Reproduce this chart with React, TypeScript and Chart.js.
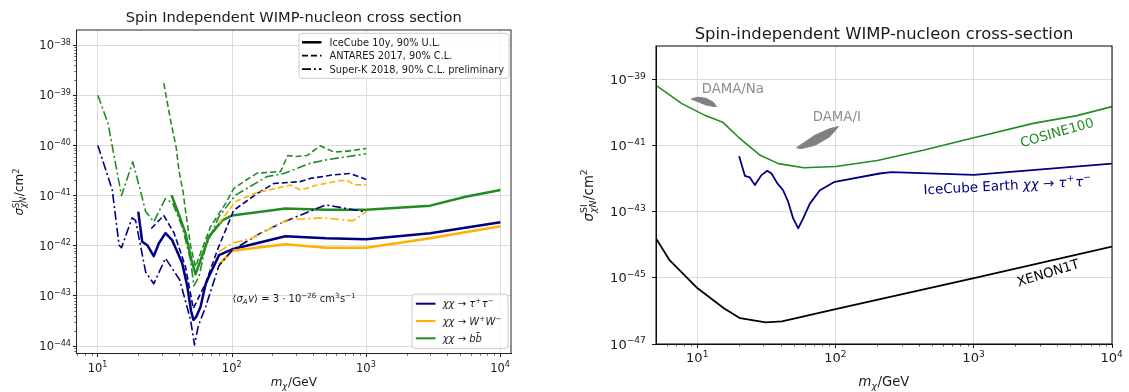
import React, { useEffect, useRef } from "react";
import { Chart, registerables } from "chart.js";

Chart.register(...registerables);

// ===================== LEFT PANEL DATA (m_chi in GeV, sigma in cm^2) =====================
// IceCube 10y, 90% U.L. (solid)
const icTauMass = [20, 21.4, 23.4, 26.1, 28.5, 31.9, 35.8, 42.5, 46.3, 49.5, 51.6, 54, 58.2, 63.5, 67.1, 80, 100, 250, 500, 1000, 3000, 10000];
const icTauSigma = [4.8e-42, 1.2e-42, 1.02e-42, 6.2e-43, 1.12e-42, 1.78e-42, 1.29e-42, 4.5e-43, 1.6e-43, 5.0e-44, 3.3e-44, 3.8e-44, 6.0e-44, 1.7e-43, 2.4e-43, 6.5e-43, 8.5e-43, 1.55e-42, 1.41e-42, 1.35e-42, 1.78e-42, 2.95e-42];
const icWMass = [80, 100, 250, 500, 1000, 3000, 10000];
const icWSigma = [4.2e-43, 7.9e-43, 1.07e-42, 9.1e-43, 9.1e-43, 1.41e-42, 2.45e-42];
const icBMass = [35.4, 39.1, 45, 49.9, 53.4, 58.2, 67.1, 84.5, 100, 250, 500, 1000, 3000, 5500, 10000];
const icBSigma = [1.02e-41, 5.1e-42, 1.78e-42, 5.1e-43, 2.7e-43, 5.1e-43, 1.5e-42, 3.2e-42, 4.0e-42, 5.5e-42, 5.2e-42, 5.2e-42, 6.3e-42, 9.5e-42, 1.29e-41];

// ANTARES 2017, 90% C.L. (dashed)
const anTauMass = [25, 31, 37, 45, 51.4, 63.5, 77.6, 103, 154, 205, 324, 383, 574, 763, 1000];
const anTauSigma = [2.2e-42, 4.0e-42, 1.78e-42, 3.8e-43, 5.6e-44, 1.78e-43, 8.1e-43, 5.1e-42, 1.1e-41, 1.74e-41, 1.9e-41, 2.2e-41, 2.6e-41, 2.75e-41, 2.1e-41];
const anWMass = [80, 106, 154, 273, 324, 430, 642, 720, 809, 1000];
const anWSigma = [2.8e-42, 7.6e-42, 1.15e-41, 1.62e-41, 1.29e-41, 1.62e-41, 2.0e-41, 2.0e-41, 1.66e-41, 1.62e-41];
const anBMass = [31, 34.8, 38.3, 40.2, 43.3, 45, 49.1, 53.4, 58.2, 69.2, 89.3, 103, 126, 154, 230, 260, 300, 363, 455, 574, 700, 1000];
const anBSigma = [1.74e-39, 3.2e-40, 9.3e-41, 3.2e-41, 1.12e-41, 5.0e-42, 1.0e-42, 3.8e-43, 7.1e-43, 2.4e-42, 6.9e-42, 1.38e-41, 2.0e-41, 2.8e-41, 3.0e-41, 6.3e-41, 6.0e-41, 6.3e-41, 9.8e-41, 7.4e-41, 7.6e-41, 8.7e-41];

// Super-K 2018, 90% C.L. preliminary (dash-dot)
const skTauMass = [10, 12.8, 14.4, 15.0, 18.0, 19.1, 22.7, 26.1, 31.9, 40.7, 49.1, 52.5, 56, 63.5, 79.8, 100, 163, 243, 500, 1000];
const skTauSigma = [1.0e-40, 1.29e-41, 1.02e-42, 9.1e-43, 3.6e-42, 3.2e-42, 3.0e-43, 1.74e-43, 5.6e-43, 2.1e-43, 3.3e-44, 1.05e-44, 2.5e-44, 6.0e-44, 4.0e-43, 8.1e-43, 1.78e-42, 3.0e-42, 6.5e-42, 4.7e-42];
const skWMass = [80, 100, 140, 258, 480, 720, 800, 1000];
const skWSigma = [7.6e-43, 1.12e-42, 1.41e-42, 3.3e-42, 3.6e-42, 3.2e-42, 3.16e-42, 4.8e-42];
const skBMass = [10, 11.9, 15, 18.2, 20.7, 22.7, 26.1, 31.9, 36, 42.5, 49.1, 51.9, 56.6, 63.5, 79.8, 106, 183, 243, 383, 511, 1000];
const skBSigma = [1.0e-39, 2.75e-40, 1.0e-41, 4.7e-41, 1.29e-41, 4.8e-42, 3.0e-42, 8.7e-42, 7.1e-42, 2.4e-42, 5.1e-43, 1.58e-43, 2.4e-43, 9.5e-43, 3.8e-42, 1.02e-41, 2.4e-41, 2.75e-41, 4.4e-41, 5.2e-41, 6.8e-41];

// ===================== RIGHT PANEL DATA =====================
const cosineMass = [5, 7.7, 11.4, 15.2, 19.7, 28.4, 38.5, 58.8, 100, 200, 437, 1000, 2690, 5580, 10000];
const cosineSigma = [6.5e-40, 1.82e-40, 7.9e-41, 5.0e-41, 1.78e-41, 5.0e-42, 2.8e-42, 2.1e-42, 2.3e-42, 3.5e-42, 7.2e-42, 1.7e-41, 4.6e-41, 7.9e-41, 1.48e-40];
const earthMass = [20, 22, 23.9, 26, 29, 31.9, 34.3, 37.7, 41.6, 45.3, 49.2, 53.5, 58.1, 65, 76.8, 98.4, 208, 252, 1000, 10000];
const earthSigma = [4.7e-42, 1.2e-42, 1.07e-42, 6.3e-43, 1.26e-42, 1.7e-42, 1.41e-42, 7.2e-43, 4.4e-43, 1.95e-43, 6.2e-44, 3.1e-44, 6.2e-44, 1.74e-43, 4.4e-43, 7.9e-43, 1.41e-42, 1.55e-42, 1.29e-42, 2.8e-42];
const xenonMass = [5, 6.24, 10, 15.5, 20.3, 31.1, 40.8, 101.6, 1020, 10000];
const xenonSigma = [1.55e-44, 3.5e-45, 4.8e-46, 1.2e-46, 6.0e-47, 4.5e-47, 4.8e-47, 1.15e-46, 1.0e-45, 8.7e-45];
const damaNaMassUpper = [9.0, 10, 11.5, 13, 13.7];
const damaNaSigmaUpper = [2.5e-40, 2.85e-40, 2.63e-40, 2.0e-40, 1.5e-40];
const damaNaMassLower = [9.0, 10, 11.5, 13, 13.7];
const damaNaSigmaLower = [2.5e-40, 2.1e-40, 1.66e-40, 1.5e-40, 1.5e-40];
const damaIMassUpper = [52, 56, 70.6, 90, 105];
const damaISigmaUpper = [8.5e-42, 1.05e-41, 2.0e-41, 3.16e-41, 3.7e-41];
const damaIMassLower = [52, 56, 70.6, 90, 105];
const damaISigmaLower = [8.5e-42, 7.9e-42, 1.0e-41, 1.78e-41, 3.7e-41];

// axis limits and labelled decades
const LX_MIN = 6.93, LX_MAX = 12000, LY_MIN = 7.1e-45, LY_MAX = 2.0e-38;
const RX_MIN = 5, RX_MAX = 10000, RY_MIN = 1e-47, RY_MAX = 1e-38;
const LY_EXPS = [-44, -43, -42, -41, -40, -39, -38];
const RY_EXPS = [-47, -45, -43, -41, -39];

// ===================== STYLES =====================
const FONT = '"DejaVu Sans", "Liberation Sans", sans-serif';
const NAVY = "#000080";
const ORANGE = "#ffb000";
const GREEN = "#228b22";
const GRID = "#dcdcdc";
const TXT = "#1a1a1a";
const DASH = [6, 3];
const DASHDOT = [9, 3, 2, 3];

const pts = (xs: number[], ys: number[]) => xs.map((x, i) => ({ x, y: ys[i] }));

function decadeTicks(min: number, max: number, exps?: number[]) {
  const out: { value: number; major: boolean }[] = [];
  const lo = Math.floor(Math.log10(min)), hi = Math.ceil(Math.log10(max));
  for (let e = lo; e <= hi; e++) {
    const v = Math.pow(10, e);
    if (v >= min * 0.999 && v <= max * 1.001 && (!exps || exps.includes(e))) out.push({ value: v, major: true });
  }
  return out;
}
function minorValues(min: number, max: number) {
  const out: number[] = [];
  const lo = Math.floor(Math.log10(min)), hi = Math.ceil(Math.log10(max));
  for (let e = lo; e <= hi; e++) for (let k = 2; k <= 9; k++) {
    const v = k * Math.pow(10, e);
    if (v > min && v < max) out.push(v);
  }
  return out;
}

type Seg = { t?: string; sup?: string; sub?: string; it?: boolean; supIt?: boolean; subIt?: boolean };
const fnt = (size: number, it = false) => `${it ? "italic " : ""}${size}px ${FONT}`;
function richWidth(ctx: CanvasRenderingContext2D, segs: Seg[], size: number) {
  let w = 0;
  for (const s of segs) {
    if (s.t !== undefined) { ctx.font = fnt(size, s.it); w += ctx.measureText(s.t).width; }
    else {
      let a = 0, b = 0;
      if (s.sup) { ctx.font = fnt(size * 0.7, s.supIt); a = ctx.measureText(s.sup).width; }
      if (s.sub) { ctx.font = fnt(size * 0.7, s.subIt); b = ctx.measureText(s.sub).width; }
      w += Math.max(a, b) + size * 0.05;
    }
  }
  return w;
}
function drawRich(ctx: CanvasRenderingContext2D, segs: Seg[], x: number, y: number, size: number, color: string, align: "left" | "center" | "right" = "left") {
  const w = richWidth(ctx, segs, size);
  let cx = align === "center" ? x - w / 2 : align === "right" ? x - w : x;
  ctx.save();
  ctx.fillStyle = color; ctx.textAlign = "left"; ctx.textBaseline = "alphabetic";
  for (const s of segs) {
    if (s.t !== undefined) { ctx.font = fnt(size, s.it); ctx.fillText(s.t, cx, y); cx += ctx.measureText(s.t).width; }
    else {
      let a = 0, b = 0;
      if (s.sup) { ctx.font = fnt(size * 0.7, s.supIt); ctx.fillText(s.sup, cx, y - size * 0.4); a = ctx.measureText(s.sup).width; }
      if (s.sub) { ctx.font = fnt(size * 0.7, s.subIt); ctx.fillText(s.sub, cx, y + size * 0.24); b = ctx.measureText(s.sub).width; }
      cx += Math.max(a, b) + size * 0.05;
    }
  }
  ctx.restore();
}
function drawCentered(ctx: CanvasRenderingContext2D, segs: Seg[], cx: number, cy: number, size: number, color: string, angleDeg = 0) {
  ctx.save(); ctx.translate(cx, cy); ctx.rotate((angleDeg * Math.PI) / 180);
  drawRich(ctx, segs, 0, size * 0.36, size, color, "center");
  ctx.restore();
}
function roundBox(ctx: CanvasRenderingContext2D, x: number, y: number, w: number, h: number, r: number) {
  ctx.beginPath();
  ctx.moveTo(x + r, y); ctx.lineTo(x + w - r, y); ctx.arcTo(x + w, y, x + w, y + r, r);
  ctx.lineTo(x + w, y + h - r); ctx.arcTo(x + w, y + h, x + w - r, y + h, r);
  ctx.lineTo(x + r, y + h); ctx.arcTo(x, y + h, x, y + h - r, r);
  ctx.lineTo(x, y + r); ctx.arcTo(x, y, x + r, y, r); ctx.closePath();
  ctx.fillStyle = "rgba(255,255,255,0.85)"; ctx.fill();
  ctx.strokeStyle = "#cccccc"; ctx.lineWidth = 1; ctx.stroke();
}
function handle(ctx: CanvasRenderingContext2D, x1: number, x2: number, y: number, color: string, w: number, dash: number[]) {
  ctx.save(); ctx.strokeStyle = color; ctx.lineWidth = w; ctx.setLineDash(dash);
  ctx.beginPath(); ctx.moveTo(x1, y); ctx.lineTo(x2, y); ctx.stroke(); ctx.restore();
}
const powLabel = (v: number): Seg[] => [{ t: "10" }, { sup: String(Math.round(Math.log10(v))).replace("-", "−") }];

// tick labels (10^n with a raised exponent) placed through the chart's own scales
function drawTickLabels(chart: any, size: number, xBase: number, yGap: number) {
  const { ctx, chartArea: ca, scales } = chart;
  for (const t of scales.x.ticks) {
    drawRich(ctx, powLabel(t.value), scales.x.getPixelForValue(t.value), ca.bottom + xBase, size, TXT, "center");
  }
  for (const t of scales.y.ticks) {
    drawRich(ctx, powLabel(t.value), ca.left - yGap, scales.y.getPixelForValue(t.value) + size * 0.36, size, TXT, "right");
  }
}

function axis(kind: "x" | "y", min: number, max: number, exps: number[] | undefined, size: number, tickLen: number) {
  return {
    type: "logarithmic", min, max, bounds: "data",
    afterBuildTicks: (s: any) => { s.ticks = decadeTicks(min, max, exps); },
    afterFit: (s: any) => { if (kind === "x") s.height = size; else s.width = size; },
    ticks: { display: false, autoSkip: false },
    grid: { color: GRID, lineWidth: 1, drawTicks: true, tickLength: tickLen, tickColor: TXT, tickWidth: 1 },
    border: { display: true, color: TXT, width: 1 },
  };
}

function line(label: string, xs: number[], ys: number[], color: string, width: number, dash: number[]) {
  return { label, data: pts(xs, ys), borderColor: color, backgroundColor: color, borderWidth: width, borderDash: dash, pointRadius: 0, fill: false, tension: 0, borderJoinStyle: "round" };
}

const tauSegs: Seg[] = [{ t: "χχ", it: true }, { t: " → " }, { t: "τ", it: true }, { sup: "+" }, { t: "τ", it: true }, { sup: "−" }];
const wSegs: Seg[] = [{ t: "χχ", it: true }, { t: " → " }, { t: "W", it: true }, { sup: "+" }, { t: "W", it: true }, { sup: "−" }];
const bSegs: Seg[] = [{ t: "χχ", it: true }, { t: " → " }, { t: "bb̄", it: true }];
const yLabelSegs: Seg[] = [{ t: "σ", it: true }, { sup: "SI", sub: "χN", subIt: true }, { t: "/cm" }, { sup: "2" }];
const xLabelSegs: Seg[] = [{ t: "m", it: true }, { sub: "χ", subIt: true }, { t: "/GeV" }];

const leftDecor = {
  id: "leftDecor",
  afterDraw(chart: any) {
    const { ctx, chartArea: ca, scales } = chart;
    ctx.save();
    ctx.strokeStyle = "#262626"; ctx.lineWidth = 1;
    ctx.strokeRect(ca.left, ca.top, ca.right - ca.left, ca.bottom - ca.top);
    ctx.beginPath();
    for (const v of minorValues(LX_MIN, LX_MAX)) { const p = Math.round(scales.x.getPixelForValue(v)) + 0.5; ctx.moveTo(p, ca.bottom); ctx.lineTo(p, ca.bottom + 2.2); }
    for (const v of minorValues(LY_MIN, LY_MAX)) { const p = Math.round(scales.y.getPixelForValue(v)) + 0.5; ctx.moveTo(ca.left, p); ctx.lineTo(ca.left - 2.2, p); }
    ctx.lineWidth = 0.7; ctx.stroke();
    drawTickLabels(chart, 11.5, 18.5, 5);
    const cx = (ca.left + ca.right) / 2, cy = (ca.top + ca.bottom) / 2;
    drawCentered(ctx, [{ t: "Spin Independent WIMP-nucleon cross section" }], cx, 17, 14.6, TXT);
    drawCentered(ctx, xLabelSegs, cx, 382, 12, TXT);
    drawCentered(ctx, yLabelSegs, 19, cy, 12, TXT, -90);
    // legend 1 (line styles)
    const bx = ca.right - 212, by = ca.top + 3.3;
    roundBox(ctx, bx, by, 210, 45, 3);
    const rows1 = [
      { t: "IceCube 10y, 90% U.L.", w: 2.5, d: [] as number[] },
      { t: "ANTARES 2017, 90% C.L.", w: 1.8, d: DASH },
      { t: "Super-K 2018, 90% C.L. preliminary", w: 1.8, d: DASHDOT },
    ];
    rows1.forEach((r, i) => {
      const y = by + 9 + i * 13.4;
      handle(ctx, bx + 3, bx + 22.5, y, "#000000", r.w, r.d);
      drawRich(ctx, [{ t: r.t }], bx + 30.5, y + 3.5, 9.8, TXT);
    });
    // legend 2 (channels)
    const b2x = ca.right - 99, b2y = ca.bottom - 59.3;
    roundBox(ctx, b2x, b2y, 96, 54.3, 3);
    const rows2 = [{ s: tauSegs, c: NAVY }, { s: wSegs, c: ORANGE }, { s: bSegs, c: GREEN }];
    rows2.forEach((r, i) => {
      const y = b2y + 9.5 + i * 17.3;
      handle(ctx, b2x + 3.8, b2x + 23.5, y, r.c, 2, []);
      drawRich(ctx, r.s, b2x + 30.7, y + 3.6, 10, TXT);
    });
    // annotation
    drawRich(ctx, [{ t: "⟨" }, { t: "σ", it: true }, { sub: "A", subIt: true }, { t: "v", it: true }, { t: "⟩ = 3 · 10" }, { sup: "−26" }, { t: " cm" }, { sup: "3" }, { t: "s" }, { sup: "−1" }],
      scales.x.getPixelForValue(101), 301.5, 10, TXT);
    ctx.restore();
  },
};

const rightDecor = {
  id: "rightDecor",
  afterDraw(chart: any) {
    const { ctx, chartArea: ca, scales } = chart;
    const X = (v: number) => scales.x.getPixelForValue(v), Y = (v: number) => scales.y.getPixelForValue(v);
    ctx.save();
    ctx.strokeStyle = "#000000"; ctx.lineWidth = 1;
    ctx.strokeRect(ca.left, ca.top, ca.right - ca.left, ca.bottom - ca.top);
    ctx.beginPath();
    for (const v of minorValues(RX_MIN, RX_MAX)) { const p = Math.round(X(v)) + 0.5; ctx.moveTo(p, ca.bottom); ctx.lineTo(p, ca.bottom + 2.4); }
    ctx.lineWidth = 0.7; ctx.stroke();
    drawTickLabels(chart, 13, 18, 9.5);
    const cx = (ca.left + ca.right) / 2, cy = (ca.top + ca.bottom) / 2;
    drawCentered(ctx, [{ t: "Spin-independent WIMP-nucleon cross-section" }], cx, 33, 16.4, TXT);
    drawCentered(ctx, xLabelSegs, cx, 381, 13.2, TXT);
    drawCentered(ctx, yLabelSegs, 28, cy, 13.3, TXT, -90);
    drawRich(ctx, [{ t: "DAMA/Na" }], X(10.7), Y(5.2e-40) + 4.8, 13.3, "#8c8c8c");
    drawRich(ctx, [{ t: "DAMA/I" }], X(68.2), Y(7.4e-41) + 4.8, 13.3, "#8c8c8c");
    drawCentered(ctx, [{ t: "COSINE100" }], X(3985), Y(2.5e-41), 13.3, GREEN, -16);
    drawCentered(ctx, [{ t: "IceCube Earth " }, { t: "χχ", it: true }, { t: " → " }, { t: "τ", it: true }, { sup: "+" }, { t: "τ", it: true }, { sup: "−" }],
      X(1758), Y(6.3e-43), 13.5, NAVY, -3);
    drawCentered(ctx, [{ t: "XENON1T" }], X(3430), Y(1.45e-45), 13.3, "#000000", -17);
    ctx.restore();
  },
};

function leftConfig(): any {
  return {
    type: "line",
    data: {
      datasets: [
        line("Super-K b", skBMass, skBSigma, GREEN, 1.6, DASHDOT),
        line("ANTARES b", anBMass, anBSigma, GREEN, 1.6, DASH),
        line("Super-K W", skWMass, skWSigma, ORANGE, 1.6, DASHDOT),
        line("ANTARES W", anWMass, anWSigma, ORANGE, 1.6, DASH),
        line("Super-K tau", skTauMass, skTauSigma, NAVY, 1.6, DASHDOT),
        line("ANTARES tau", anTauMass, anTauSigma, NAVY, 1.6, DASH),
        line("IceCube W", icWMass, icWSigma, ORANGE, 2.5, []),
        line("IceCube b", icBMass, icBSigma, GREEN, 2.5, []),
        line("IceCube tau", icTauMass, icTauSigma, NAVY, 2.5, []),
      ],
    },
    options: {
      responsive: false, animation: false, events: [],
      layout: { padding: { left: 0, right: 49, top: 30, bottom: 0 } },
      plugins: { legend: { display: false }, tooltip: { enabled: false }, title: { display: false } },
      scales: {
        x: axis("x", LX_MIN, LX_MAX, undefined, 38.5, 3.5),
        y: axis("y", LY_MIN, LY_MAX, LY_EXPS, 76.5, 3.5),
      },
    },
    plugins: [leftDecor],
  };
}

function rightConfig(): any {
  const gray = "#808080";
  return {
    type: "line",
    data: {
      datasets: [
        { ...line("DAMA/Na", damaNaMassUpper, damaNaSigmaUpper, gray, 1, []), fill: "+1", backgroundColor: gray },
        line("DAMA/Na lower", damaNaMassLower, damaNaSigmaLower, gray, 1, []),
        { ...line("DAMA/I", damaIMassUpper, damaISigmaUpper, gray, 1, []), fill: "+1", backgroundColor: gray },
        line("DAMA/I lower", damaIMassLower, damaISigmaLower, gray, 1, []),
        line("COSINE100", cosineMass, cosineSigma, GREEN, 1.6, []),
        line("IceCube Earth", earthMass, earthSigma, NAVY, 1.8, []),
        line("XENON1T", xenonMass, xenonSigma, "#000000", 1.8, []),
      ],
    },
    options: {
      responsive: false, animation: false, events: [],
      layout: { padding: { left: 0, right: 17, top: 46, bottom: 0 } },
      plugins: { legend: { display: false }, tooltip: { enabled: false }, title: { display: false }, filler: { propagate: false } },
      scales: {
        x: axis("x", RX_MIN, RX_MAX, undefined, 48, 4),
        y: axis("y", RY_MIN, RY_MAX, RY_EXPS, 96, 4),
      },
    },
    plugins: [rightDecor],
  };
}

function ChartCanvas({ make, left, width }: { make: () => any; left: number; width: number }) {
  const ref = useRef<HTMLCanvasElement>(null);
  useEffect(() => {
    const chart = new Chart(ref.current as HTMLCanvasElement, make());
    return () => chart.destroy();
  }, []);
  return <canvas ref={ref} width={width} height={392} style={{ position: "absolute", left, top: 0, width, height: 392 }} />;
}

export default function App() {
  return (
    <div style={{ position: "absolute", left: 0, top: 0, width: 1129, height: 392, background: "#ffffff" }}>
      <ChartCanvas make={leftConfig} left={0} width={560} />
      <ChartCanvas make={rightConfig} left={560} width={569} />
    </div>
  );
}
